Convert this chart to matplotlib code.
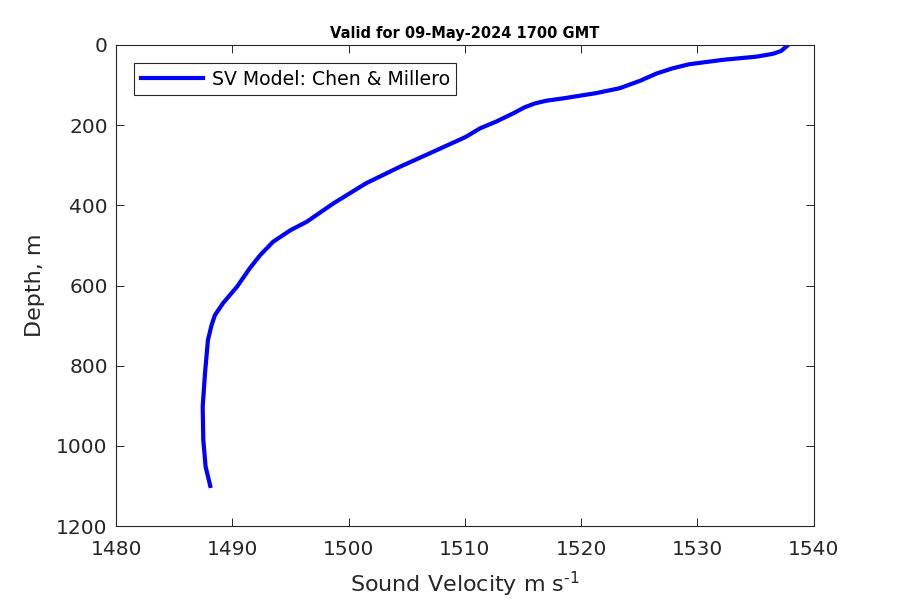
import matplotlib
matplotlib.use("Agg")
import matplotlib.pyplot as plt

velocity = [1537.8, 1537.65, 1537.2, 1536.5, 1535.1, 1532.2, 1529.3, 1527.9, 1526.5,
            1525.1, 1523.3, 1521.3, 1518.5, 1517.0, 1516.0, 1515.1, 1514.2, 1512.7, 1511.3,
            1510.1, 1507.3, 1504.4, 1501.5, 1498.7, 1496.4, 1495.0, 1493.5, 1492.4,
            1491.5, 1490.4, 1489.2, 1488.5, 1488.2, 1487.9, 1487.65, 1487.45, 1487.5,
            1487.7, 1488.1]
depth = [0, 4, 15, 22, 29, 37, 48, 58, 71,
         89, 108, 120, 133, 139, 146, 156, 170, 191, 208,
         229, 266, 304, 345, 395, 441, 462, 491, 524,
         557, 603, 644, 674, 700, 736, 818, 902, 985,
         1052, 1100]

xticks = [1480, 1490, 1500, 1510, 1520, 1530, 1540]
yticks = [0, 200, 400, 600, 800, 1000, 1200]

fig = plt.figure(figsize=(9, 6), dpi=100)
ax = fig.add_axes([0.129, 0.1233, 0.775, 0.8017])
ax.plot(velocity, depth, color="#0000ff", linewidth=3.0, solid_joinstyle="round",
        label="SV Model: Chen & Millero")
ax.set_xlim(1480, 1540)
ax.set_ylim(1200, 0)
ax.set_xticks(xticks)
ax.set_yticks(yticks)
tc = "#262626"
ax.tick_params(direction="in", top=True, right=True, labelsize=14.5, colors=tc,
               length=6, width=0.7)
ax.tick_params(axis="x", pad=10)
ax.tick_params(axis="y", pad=6)
for s in ax.spines.values():
    s.set_color(tc)
    s.set_linewidth(0.8)
ax.set_xlabel("Sound Velocity m s$^{\\text{-1}}$", fontsize=16, color=tc, labelpad=8)
ax.set_ylabel("Depth, m", fontsize=16, color=tc, labelpad=8)
ax.set_title("Valid for 09-May-2024 1700 GMT", fontsize=10.5, fontweight="bold", pad=5)
leg = ax.legend(loc="upper left", fontsize=13.6, fancybox=False, framealpha=1,
                edgecolor="#262626", borderpad=0.35, handlelength=3.3, handletextpad=0.45,
                borderaxespad=0, bbox_to_anchor=(0.0258, 0.9626))
leg.get_frame().set_linewidth(0.8)
fig.savefig("out.png", dpi=100)
